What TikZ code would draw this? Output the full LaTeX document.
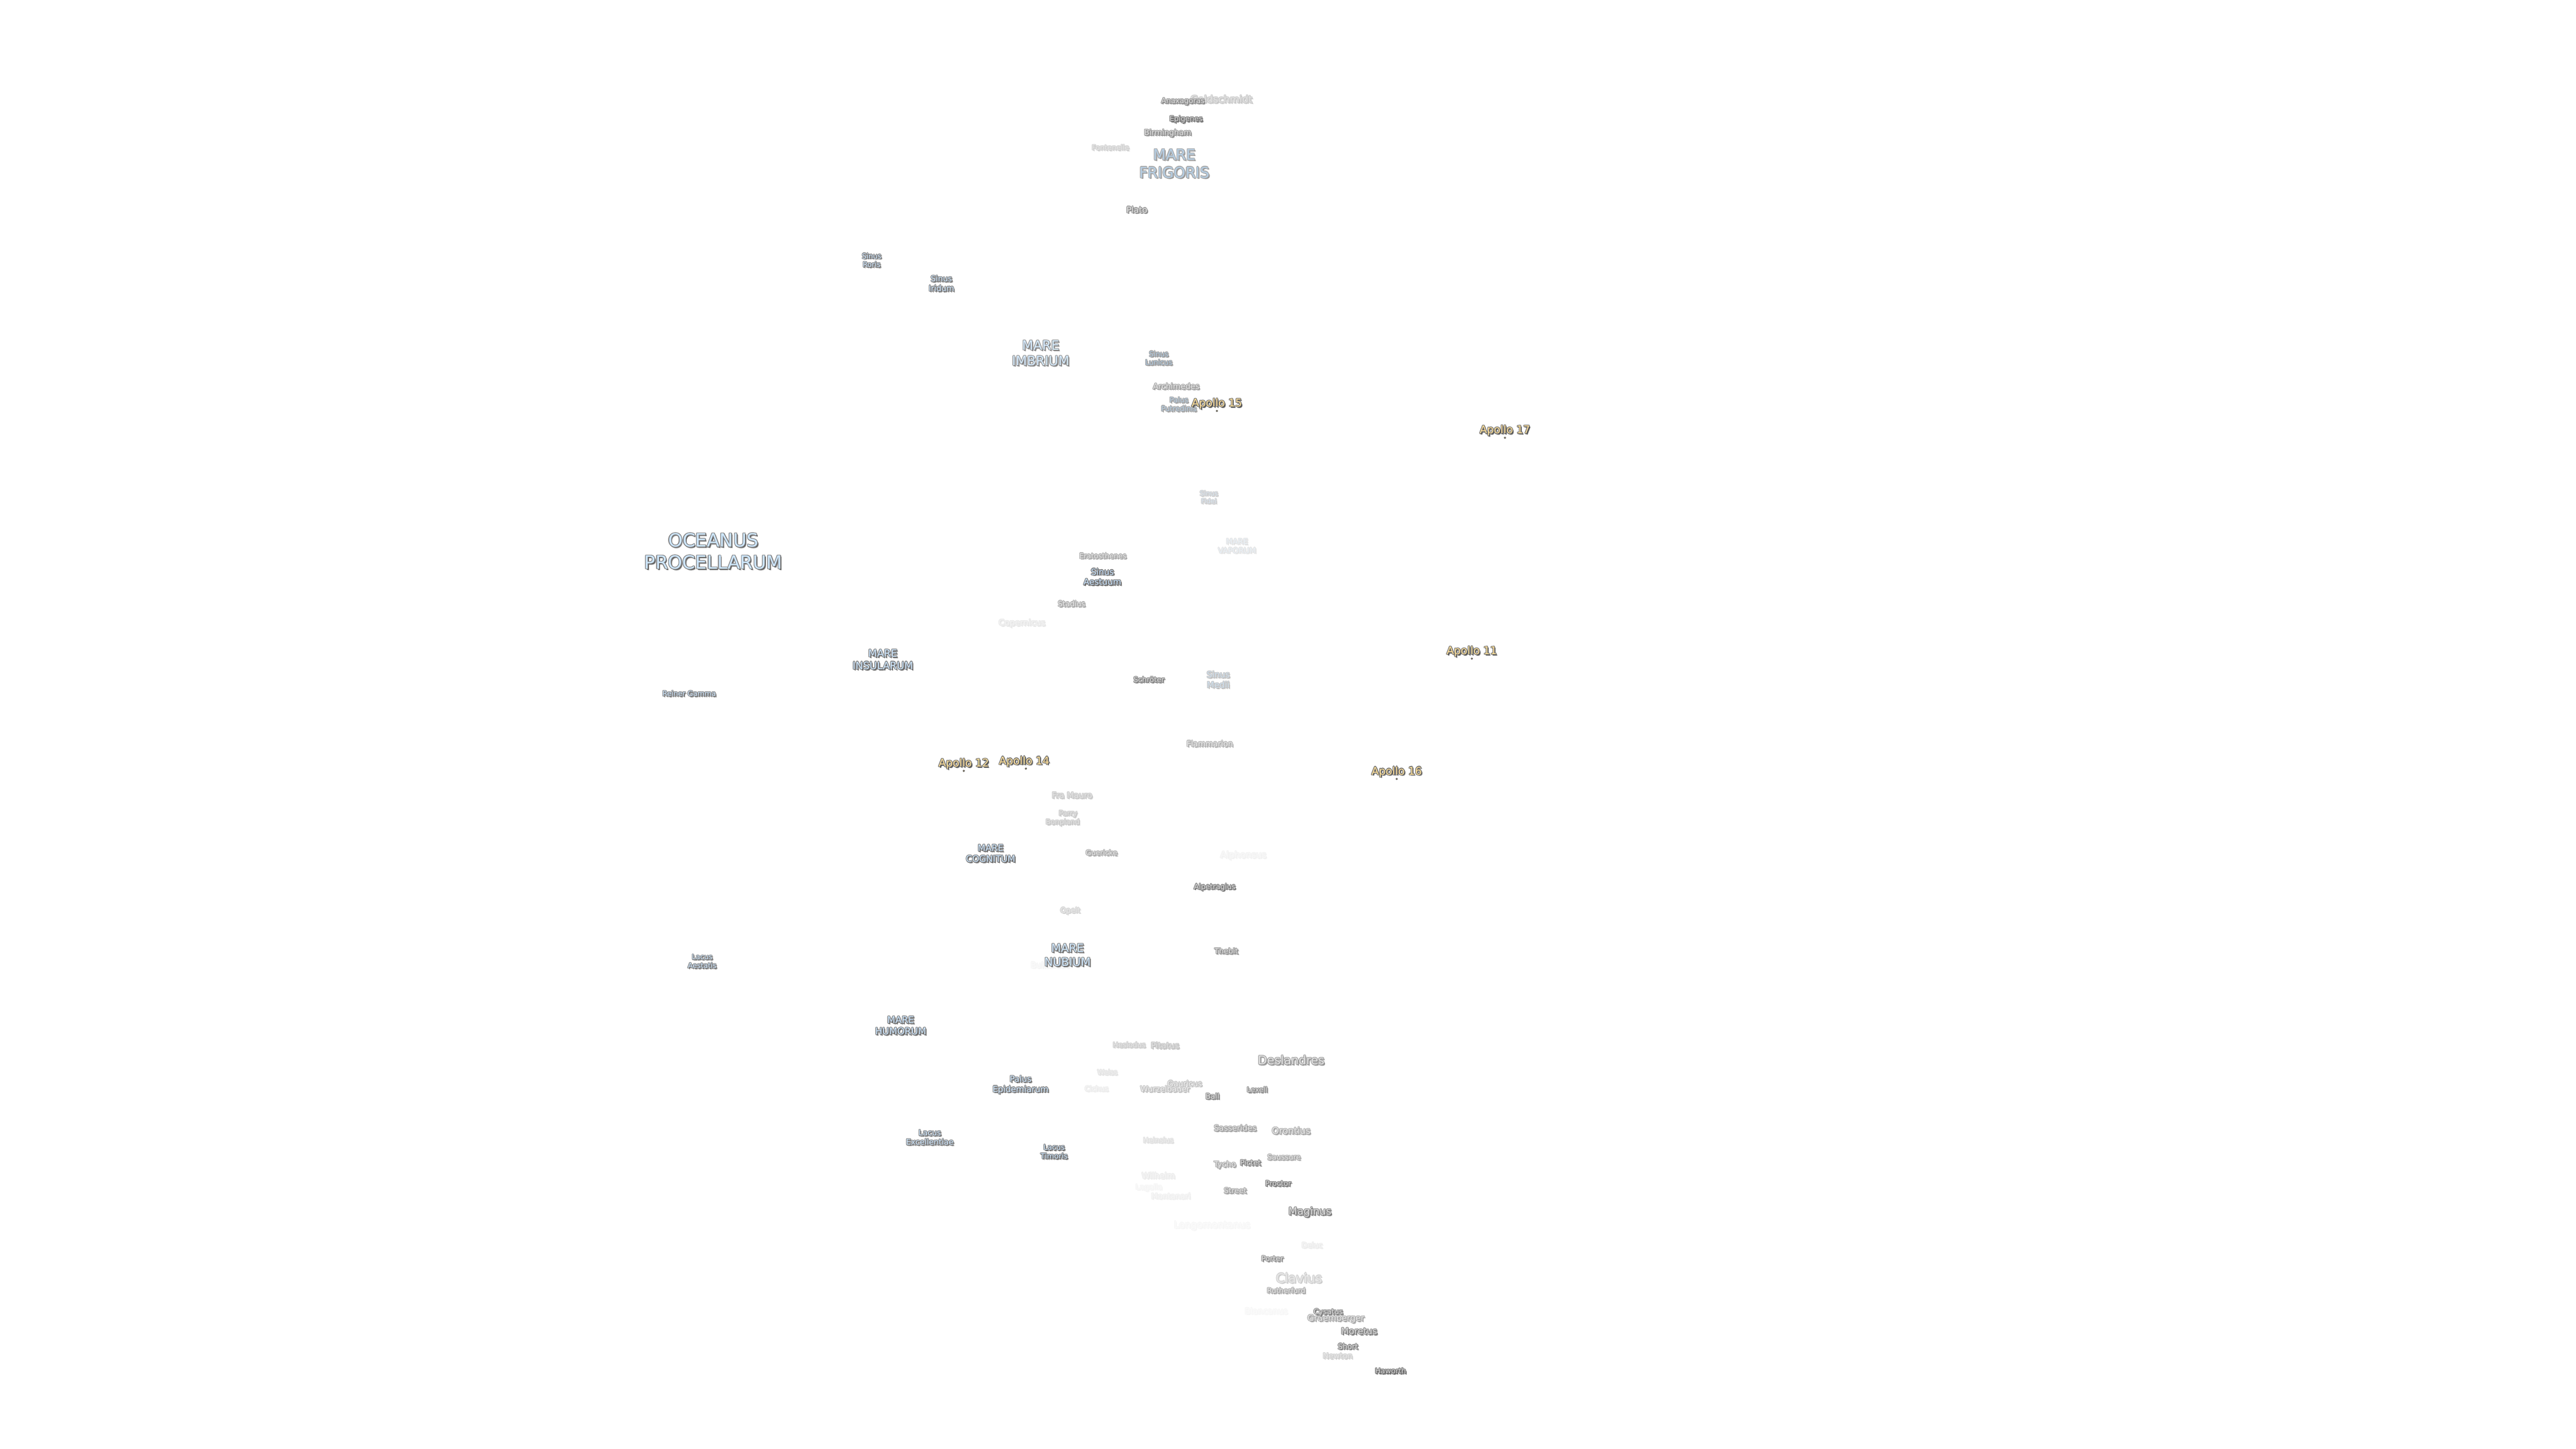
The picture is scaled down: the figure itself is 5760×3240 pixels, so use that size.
\documentclass[tikz,border=0pt]{standalone}
\usepackage{fontspec}
\setmainfont{DejaVu Sans}
\usepackage{tikz}

\definecolor{seafill}{HTML}{C8E4FF}
\definecolor{seadim}{HTML}{84ACCF}
\definecolor{craterfill}{HTML}{D4D4D4}
\definecolor{craterdim}{HTML}{ABABAB}
\definecolor{apollofill}{HTML}{FFDF9A}
\definecolor{haloink}{HTML}{707070}
\definecolor{shadowink}{HTML}{404040}
\definecolor{shadowsoft}{HTML}{989898}

\tikzset{
	labeltext/.style={inner sep=0pt,align=center},
	sitedot/.style={circle,inner sep=0pt,minimum size=0.35pt,fill=apollofill,draw=shadowink,line width=0.1pt}
}

\newcommand{\labelfont}[1]{\fontsize{#1}{\dimexpr#1pt*6/5\relax}\selectfont}
%name, x, y, size, fill, strength, text
\newcommand{\moonlabel}[7]{
	\foreach \dx/\dy/\ink in {3.2/3.2/shadowsoft,2.2/2.2/shadowink,-1.5/0/haloink,1.5/0/haloink,0/-1.5/haloink,0/1.5/haloink,-1.1/-1.1/haloink,1.1/-1.1/haloink,-1.1/1.1/haloink,1.1/1.1/haloink}{
		\node[labeltext,font=\labelfont{#4},text=\ink!#6!white] at ({#2+\dx},{#3+\dy+1}) {#7};
	}
	\node[labeltext,font=\labelfont{#4},text=#5!#6!white] (#1) at (#2,{#3+1}) {#7};
}

\begin{document}
\begin{tikzpicture}[x=0.1pt,y=-0.1pt]
	\useasboundingbox (0,0) rectangle (5760,3240);

	%faint ones first, they lie under the others
	\foreach \nm/\px/\py/\sz/\op/\txt in {
		goldschmidt/2731/221/2.2/35/Goldschmidt,
		bullialdus/2348/2157/1.8/6/Bullialdus,
		lagalla/2569/2655/1.67/6/Lagalla,
		copernicus/2285/1393/1.87/15/Copernicus,
		alphonsus/2780/1912/2.0/8/Alphonsus,
		cichus/2452/2434/1.6/12/Cichus,
		weiss/2476/2397/1.57/18/Weiss,
		wilhelm/2590/2628/1.85/12/Wilhelm,
		montanari/2618/2674/1.74/10/Montanari,
		longomontanus/2710/2740/2.12/5/Longomontanus,
		blancanus/2831/2931/1.86/5/Blancanus,
		deluc/2934/2784/1.65/12/Deluc,
		heinsius/2590/2549/1.6/20/Heinsius,
		fontenelle/2483/329/1.6/30/Fontenelle,
		framauro/2397/1778/1.82/35/Fra Mauro,
		parry/2376/1829/1.6/35/\hspace*{2.4pt}Parry\\Bonpland,
		opelt/2393/2036/1.64/28/Opelt,
		hesiodus/2525/2336/1.6/32/Hesiodus,
		pitatus/2605/2337/1.86/38/Pitatus,
		newton/2991/3031/1.73/30/Newton,
		clavius/2909/2857/2.85/30/Clavius
	}{
		\moonlabel{\nm}{\px}{\py}{\sz}{craterdim}{\op}{\txt}
	}

	%craters
	\foreach \nm/\px/\py/\sz/\op/\txt in {
		anaxagoras/2645/226/1.63/75/Anaxagoras,
		epigenes/2652/266/1.62/90/Epigenes,
		birmingham/2611/297/1.73/70/Birmingham,
		plato/2542/468/1.88/70/Plato,
		archimedes/2630/863/1.76/60/Archimedes,
		eratosthenes/2466/1242/1.6/55/Eratosthenes,
		stadius/2396/1349/1.65/55/Stadius,
		schroter/2569/1519/1.63/80/Schröter,
		flammarion/2705/1662/1.74/50/Flammarion,
		guericke/2463/1906/1.6/55/Guericke,
		alpetragius/2716/1983/1.63/85/Alpetragius,
		thebit/2742/2126/1.66/70/Thebit,
		wurzelbauer/2605/2434/1.75/40/Wurzelbauer,
		gauricus/2649/2422/1.75/40/Gauricus,
		deslandres/2887/2370/2.66/65/Deslandres,
		ball/2711/2451/1.67/75/Ball,
		lexell/2811/2436/1.6/75/Lexell,
		sasserides/2762/2522/1.77/60/Sasserides,
		orontius/2887/2528/2.03/55/Orontius,
		saussure/2871/2587/1.63/55/Saussure,
		tycho/2739/2604/1.73/55/Tycho,
		pictet/2796/2599/1.66/80/Pictet,
		proctor/2858/2646/1.63/85/Proctor,
		street/2762/2662/1.66/60/Street,
		maginus/2929/2710/2.3/80/Maginus,
		porter/2845/2814/1.63/70/Porter,
		rutherfurd/2876/2885/1.6/55/Rutherfurd,
		gruemberger/2987/2948/1.89/55/Gruemberger,
		cysatus/2970/2934/1.65/80/Cysatus,
		moretus/3039/2976/2.0/80/Moretus,
		short/3014/3010/1.68/80/Short,
		haworth/3112/3065/1.63/95/Haworth
	}{
		\moonlabel{\nm}{\px}{\py}{\sz}{craterfill}{\op}{\txt}
	}

	%seas that fade
	\foreach \nm/\px/\py/\sz/\op/\txt in {
		frigoris/2626/365/3.3/60/MARE\\FRIGORIS,
		lunicus/2591/800/1.6/65/Sinus\\Lunicus,
		putredinis/2636/903/1.6/60/Palus\\Putredinis,
		fidei/2703/1111/1.5/32/Sinus\\Fidei,
		vaporum/2766/1220/1.7/18/MARE\\VAPORUM,
		medii/2724/1519/1.9/40/Sinus\\Medii
	}{
		\moonlabel{\nm}{\px}{\py}{\sz}{seadim}{\op}{\txt}
	}

	%seas, bays, lakes
	\foreach \nm/\px/\py/\sz/\op/\txt in {
		roris/1949/581/1.6/85/Sinus\\Roris,
		iridum/2105/633/1.76/85/Sinus\\Iridum,
		imbrium/2327/789/2.9/75/MARE\\IMBRIUM,
		procellarum/1595/1232/4.1/90/OCEANUS\\PROCELLARUM,
		aestuum/2465/1289/1.9/95/Sinus\\Aestuum,
		insularum/1974/1474/2.27/90/MARE\\INSULARUM,
		gamma/1541/1550/1.6/85/Reiner Gamma,
		cognitum/2215/1908/2.0/90/MARE\\COGNITUM,
		nubium/2387/2135/2.55/85/MARE\\NUBIUM,
		aestatis/1570/2149/1.6/85/Lacus\\Aestatis,
		humorum/2014/2293/2.1/90/MARE\\HUMORUM,
		epidemiarum/2282/2425/1.87/85/Palus\\Epidemiarum,
		excellentiae/2079/2543/1.75/85/Lacus\\Excellentiae,
		timoris/2357/2575/1.65/90/Lacus\\Timoris
	}{
		\moonlabel{\nm}{\px}{\py}{\sz}{seafill}{\op}{\txt}
	}

	%landing sites
	\foreach \nm/\px/\py/\txt in {
		xv/2721/902/Apollo 15,
		xvii/3365/962/Apollo 17,
		xi/3291/1456/Apollo 11,
		xvi/3123/1725/Apollo 16,
		xii/2155/1707/Apollo 12,
		xiv/2294/1702/Apollo 14
	}{
		\moonlabel{apollo\nm}{\px}{\py}{2.4}{apollofill}{100}{\txt}
		\node[sitedot] (site\nm) at (\px,{\py+17}) {};
	}
\end{tikzpicture}
\end{document}
